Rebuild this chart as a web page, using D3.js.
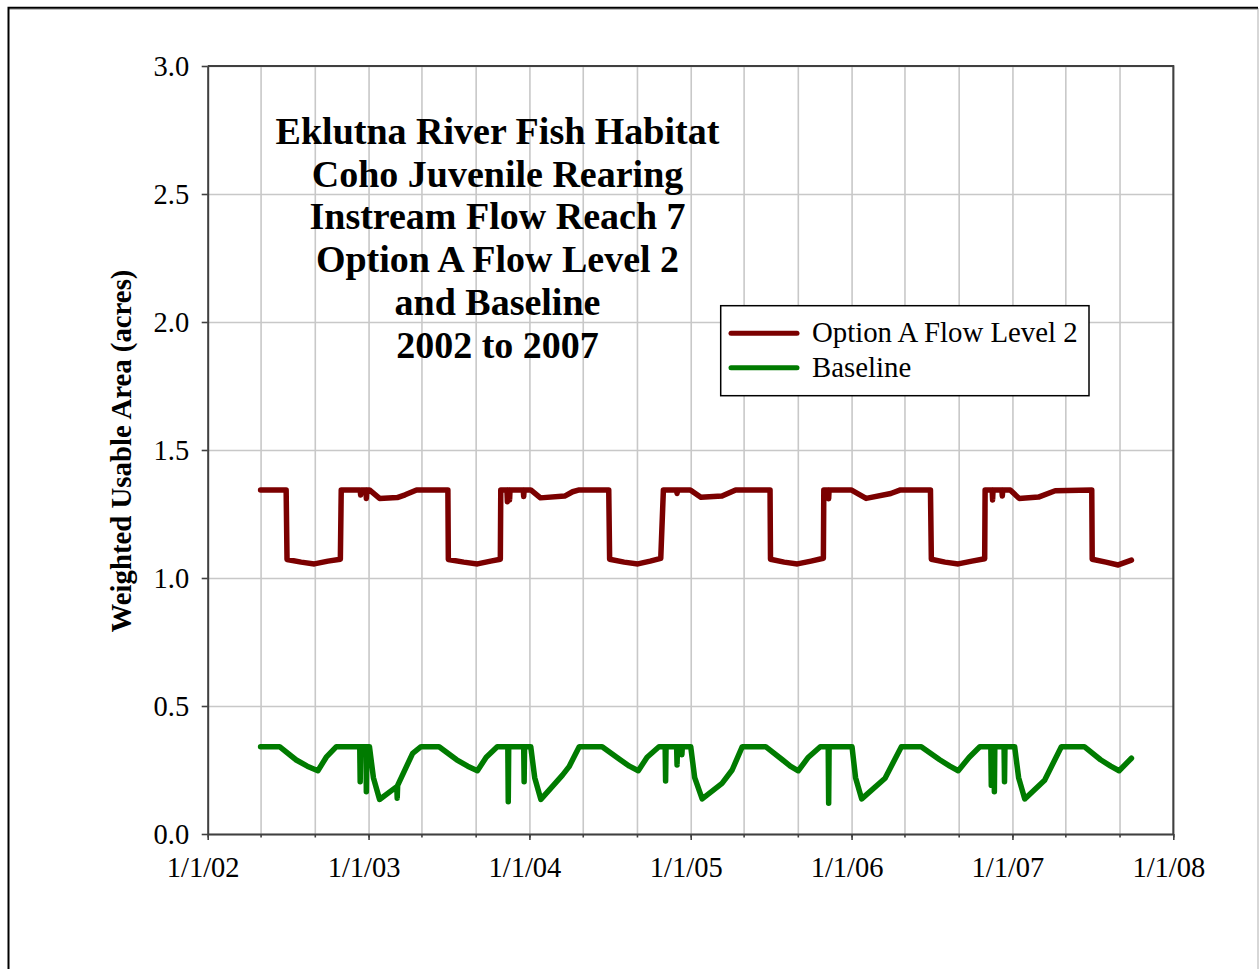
<!DOCTYPE html>
<html>
<head>
<meta charset="utf-8">
<script src="https://cdn.jsdelivr.net/npm/d3@7"></script>
<style>
  body { margin: 0; background: #fff; }
  text { font-family: "Liberation Serif", "Times New Roman", serif; }
</style>
</head>
<body>
<div id="my_dataviz"></div>
<script>
// values
let titleLines = ["Eklutna River Fish Habitat", "Coho Juvenile Rearing", "Instream Flow Reach 7",
                  "Option A Flow Level 2", "and Baseline", "2002 to 2007"];
let seriesNames = ["Option A Flow Level 2", "Baseline"];
let yTicks = [0, 0.5, 1.0, 1.5, 2.0, 2.5, 3.0];
let xLabelDates = ["2002-01-01", "2003-01-01", "2004-01-01", "2005-01-01", "2006-01-01", "2007-01-01", "2008-01-01"];

let optionDates = [
  "2002-05-01", "2002-06-28", "2002-06-30", "2002-08-01", "2002-08-31", "2002-10-01", "2002-10-29", "2002-10-31",
  "2002-12-13", "2002-12-14", "2002-12-15", "2002-12-26", "2002-12-27", "2002-12-28", "2003-01-03", "2003-01-26",
  "2003-03-07", "2003-03-25", "2003-04-20", "2003-06-30", "2003-07-01", "2003-08-05", "2003-09-05", "2003-10-05",
  "2003-10-27", "2003-10-28", "2003-11-11", "2003-11-12", "2003-11-13", "2003-11-16", "2003-11-17", "2003-11-18",
  "2003-12-18", "2003-12-19", "2003-12-20", "2004-01-04", "2004-01-26", "2004-03-21", "2004-04-08", "2004-04-23",
  "2004-06-29", "2004-07-01", "2004-08-03", "2004-09-03", "2004-10-01", "2004-10-25", "2004-10-31", "2004-11-30",
  "2004-12-01", "2004-12-02", "2004-12-31", "2005-01-24", "2005-03-13", "2005-04-13", "2005-06-30", "2005-07-01",
  "2005-08-01", "2005-08-31", "2005-10-01", "2005-10-29", "2005-10-30", "2005-11-09", "2005-11-10", "2005-11-11",
  "2005-12-31", "2006-02-03", "2006-03-31", "2006-04-22", "2006-06-29", "2006-07-01", "2006-08-01", "2006-08-31",
  "2006-10-01", "2006-10-30", "2006-10-31", "2006-11-16", "2006-11-17", "2006-11-18", "2006-12-08", "2006-12-09",
  "2006-12-10", "2006-12-27", "2007-01-16", "2007-03-01", "2007-04-08", "2007-06-30", "2007-07-01", "2007-08-01",
  "2007-08-29", "2007-09-28"
];
let optionValues = [
  1.344, 1.344, 1.072, 1.062, 1.055, 1.066, 1.073, 1.344,
  1.344, 1.324, 1.344, 1.344, 1.311, 1.344, 1.344, 1.311,
  1.314, 1.325, 1.344, 1.344, 1.072, 1.062, 1.055, 1.066,
  1.073, 1.344, 1.344, 1.298, 1.344, 1.344, 1.305, 1.344,
  1.344, 1.318, 1.344, 1.344, 1.313, 1.32, 1.337, 1.344,
  1.344, 1.073, 1.062, 1.055, 1.066, 1.077, 1.344, 1.344,
  1.33, 1.344, 1.344, 1.315, 1.32, 1.344, 1.344, 1.073,
  1.062, 1.055, 1.066, 1.077, 1.344, 1.344, 1.31, 1.344,
  1.344, 1.311, 1.33, 1.344, 1.344, 1.073, 1.062, 1.055,
  1.066, 1.075, 1.344, 1.344, 1.305, 1.344, 1.344, 1.32,
  1.344, 1.344, 1.311, 1.316, 1.341, 1.344, 1.073, 1.062,
  1.051, 1.07
];

let baselineDates = [
  "2002-05-01", "2002-06-13", "2002-07-21", "2002-08-15", "2002-09-08", "2002-09-27", "2002-10-20", "2002-12-12",
  "2002-12-13", "2002-12-14", "2002-12-26", "2002-12-27", "2002-12-28", "2003-01-03", "2003-01-12", "2003-01-26",
  "2003-03-06", "2003-03-07", "2003-03-08", "2003-04-11", "2003-04-30", "2003-06-10", "2003-07-20", "2003-08-14",
  "2003-09-05", "2003-09-25", "2003-10-20", "2003-11-13", "2003-11-14", "2003-11-15", "2003-12-19", "2003-12-20",
  "2003-12-21", "2004-01-04", "2004-01-13", "2004-01-27", "2004-03-16", "2004-03-31", "2004-04-23", "2004-06-14",
  "2004-07-25", "2004-08-15", "2004-09-04", "2004-09-24", "2004-10-21", "2004-11-04", "2004-11-05", "2004-11-06",
  "2004-11-30", "2004-12-01", "2004-12-02", "2004-12-11", "2004-12-12", "2004-12-13", "2005-01-01", "2005-01-10",
  "2005-01-27", "2005-03-13", "2005-04-05", "2005-04-28", "2005-06-20", "2005-07-28", "2005-08-15", "2005-09-02",
  "2005-09-25", "2005-10-22", "2005-11-09", "2005-11-10", "2005-11-11", "2006-01-02", "2006-01-10", "2006-01-24",
  "2006-03-18", "2006-04-24", "2006-06-08", "2006-07-20", "2006-08-12", "2006-08-31", "2006-09-25", "2006-10-19",
  "2006-11-13", "2006-11-14", "2006-11-15", "2006-11-20", "2006-11-21", "2006-11-22", "2006-12-13", "2006-12-14",
  "2006-12-15", "2007-01-06", "2007-01-15", "2007-01-29", "2007-03-15", "2007-04-22", "2007-06-13", "2007-07-20",
  "2007-08-12", "2007-08-31", "2007-09-28"
];
let baselineValues = [
  0.341, 0.341, 0.289, 0.265, 0.247, 0.300, 0.341, 0.341,
  0.204, 0.341, 0.341, 0.165, 0.341, 0.341, 0.22, 0.135,
  0.185, 0.14, 0.19, 0.315, 0.341, 0.341, 0.29, 0.265,
  0.247, 0.30, 0.341, 0.341, 0.126, 0.341, 0.341, 0.204,
  0.341, 0.341, 0.22, 0.135, 0.23, 0.263, 0.341, 0.341,
  0.29, 0.265, 0.247, 0.30, 0.341, 0.341, 0.207, 0.341,
  0.341, 0.27, 0.341, 0.341, 0.31, 0.341, 0.341, 0.22,
  0.137, 0.198, 0.25, 0.341, 0.341, 0.29, 0.265, 0.247,
  0.30, 0.341, 0.341, 0.12, 0.341, 0.341, 0.22, 0.137,
  0.218, 0.341, 0.341, 0.29, 0.265, 0.247, 0.30, 0.341,
  0.341, 0.19, 0.341, 0.341, 0.165, 0.341, 0.341, 0.204,
  0.341, 0.341, 0.22, 0.137, 0.21, 0.341, 0.341, 0.29,
  0.265, 0.247, 0.296
];

let colors = ["#7b0000", "#007b00"];

function init(){
  // set the dimensions and margins of the graph
  let margin = {top: 66, left: 207.7},
      width = 1173.3 - margin.left,
      height = 834 - margin.top;

  let parse = d3.timeParse("%Y-%m-%d");

  let svg = d3.select("#my_dataviz")
    .append("svg")
      .attr("width", 1259)
      .attr("height", 969);

  // outer frame
  svg.append("line").attr("x1", 1258).attr("x2", 1258).attr("y1", 8).attr("y2", 969)
    .attr("stroke", "#bdbdbd").attr("stroke-width", 1.2);
  svg.append("line").attr("x1", 8).attr("x2", 1258).attr("y1", 9.5).attr("y2", 9.5)
    .attr("stroke", "#bdbdbd").attr("stroke-width", 1);
  svg.append("path").attr("d", "M8.5,969V7.8H1258")
    .attr("fill", "none").attr("stroke", "#000").attr("stroke-width", 2);

  let g = svg.append("g")
    .attr("transform", "translate(" + margin.left + "," + margin.top + ")");

  // scales
  let x = d3.scaleTime()
    .domain([parse("2002-01-01"), parse("2008-01-01")])
    .range([0, width]);
  let y = d3.scaleLinear()
    .domain([0, 3])
    .range([height, 0]);

  let gridDates = d3.timeMonth.every(4).range(parse("2002-01-01"), parse("2008-01-02"));

  // grid lines
  g.append("g")
    .attr("class", "grid")
    .call(d3.axisBottom(x).tickValues(gridDates).tickSize(height).tickFormat(""))
    .call(s => s.select(".domain").remove());
  g.append("g")
    .attr("class", "grid")
    .call(d3.axisLeft(y).tickValues(yTicks).tickSize(-width).tickFormat(""))
    .call(s => s.select(".domain").remove());
  g.selectAll(".grid line").attr("stroke", "#c8c8c8").attr("stroke-width", 1.6);

  // plot border top / right
  g.append("path")
    .attr("d", "M0,0H" + width + "V" + height)
    .attr("fill", "none").attr("stroke", "#404040").attr("stroke-width", 2);

  // minor x ticks
  g.append("g")
    .attr("transform", "translate(0," + height + ")")
    .call(d3.axisBottom(x).tickValues(gridDates).tickSize(3.5).tickFormat(""))
    .call(s => s.select(".domain").remove())
    .selectAll("line").attr("stroke", "#404040").attr("stroke-width", 1.6);

  // Add X axis
  let xAxis = g.append("g")
    .attr("transform", "translate(0," + height + ")")
    .call(d3.axisBottom(x).tickValues(xLabelDates.map(parse)).tickSize(6).tickSizeOuter(0)
      .tickFormat(d3.timeFormat("%-m/%-d/%y")));
  xAxis.select(".domain").attr("stroke", "#404040").attr("stroke-width", 2);
  xAxis.selectAll("line").attr("stroke", "#404040").attr("stroke-width", 1.6);
  xAxis.selectAll("text")
    .attr("y", 43).attr("dy", null).attr("dx", -5)
    .style("font-size", "28.5px").attr("fill", "#000");

  // Add Y axis
  let yAxis = g.append("g")
    .call(d3.axisLeft(y).tickValues(yTicks).tickSize(6).tickSizeOuter(0).tickFormat(d3.format(".1f")));
  yAxis.select(".domain").attr("stroke", "#404040").attr("stroke-width", 2);
  yAxis.selectAll("line").attr("stroke", "#404040").attr("stroke-width", 1.6);
  yAxis.selectAll("text")
    .attr("x", -18.5).attr("dy", "0.35em")
    .style("font-size", "28.5px").attr("fill", "#000");

  // Add lines
  let line = d3.line()
    .x(d => x(d.date))
    .y(d => y(d.value));

  let series = [
    optionDates.map((d, i) => ({date: parse(d), value: optionValues[i]})),
    baselineDates.map((d, i) => ({date: parse(d), value: baselineValues[i]}))
  ];

  g.selectAll(".series")
    .data(series)
    .enter()
    .append("path")
      .attr("class", "series")
      .attr("d", line)
      .attr("fill", "none")
      .attr("stroke", (d, i) => colors[i])
      .attr("stroke-width", 5.5)
      .attr("stroke-linejoin", "round")
      .attr("stroke-linecap", "round");

  // title
  svg.append("text")
    .attr("text-anchor", "middle")
    .style("font-size", "38px")
    .style("font-weight", "bold")
    .selectAll("tspan")
    .data(titleLines)
    .enter()
    .append("tspan")
      .attr("x", 497.5)
      .attr("y", (d, i) => 144 + i * 42.7)
      .text(d => d);

  // y axis title
  svg.append("text")
    .attr("transform", "translate(131,451) rotate(-90)")
    .attr("text-anchor", "middle")
    .style("font-size", "28.8px")
    .style("font-weight", "bold")
    .text("Weighted Usable Area (acres)");

  // legend
  let legend = svg.append("g");
  legend.append("rect")
    .attr("x", 720.7).attr("y", 305.7)
    .attr("width", 368.3).attr("height", 90)
    .attr("fill", "#fff").attr("stroke", "#000").attr("stroke-width", 1.5);
  let rows = legend.selectAll(".row")
    .data(seriesNames)
    .enter()
    .append("g")
      .attr("class", "row")
      .attr("transform", (d, i) => "translate(0," + (333.3 + i * 34.4) + ")");
  rows.append("line")
    .attr("x1", 731).attr("x2", 797)
    .attr("stroke", (d, i) => colors[i])
    .attr("stroke-width", 5)
    .attr("stroke-linecap", "round");
  rows.append("text")
    .attr("x", 812).attr("y", 9)
    .style("font-size", "28.8px")
    .text(d => d);
}

init();
</script>
</body>
</html>
